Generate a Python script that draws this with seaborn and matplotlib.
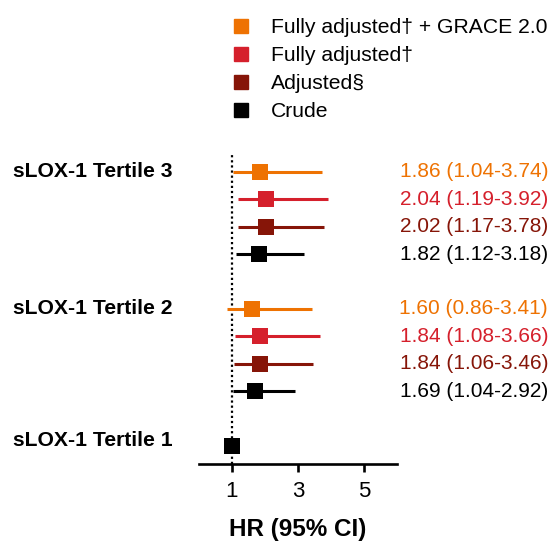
import matplotlib
matplotlib.use("Agg")
import matplotlib.pyplot as plt
from matplotlib.lines import Line2D
import pandas as pd
import seaborn as sns

# ---- data ----
groups = ["sLOX-1 Tertile 3", "sLOX-1 Tertile 2", "sLOX-1 Tertile 1"]
models = ["Fully adjusted\u2020 + GRACE 2.0", "Fully adjusted\u2020", "Adjusted\u00a7", "Crude"]
colors = ["#EE7202", "#D5202C", "#861508", "#000000"]

hr_t3 = [1.86, 2.04, 2.02, 1.82]
lo_t3 = [1.04, 1.19, 1.17, 1.12]
hi_t3 = [3.74, 3.92, 3.78, 3.18]

hr_t2 = [1.60, 1.84, 1.84, 1.69]
lo_t2 = [0.86, 1.08, 1.06, 1.04]
hi_t2 = [3.41, 3.66, 3.46, 2.92]

hr_ref = 1.0  # Tertile 1 is the reference category

x_ticks = [1, 3, 5]

# ---- long-form table: one row per estimate ----
rows = []
for g_idx, (hr, lo, hi) in enumerate([(hr_t3, lo_t3, hi_t3), (hr_t2, lo_t2, hi_t2)]):
    for m_idx, m in enumerate(models):
        rows.append(dict(group=groups[g_idx], model=m, hr=hr[m_idx], lo=lo[m_idx],
                         hi=hi[m_idx], row=g_idx * 5 + m_idx, show_text=True))
rows.append(dict(group=groups[2], model=models[3], hr=hr_ref, lo=hr_ref, hi=hr_ref,
                 row=10, show_text=False))
df = pd.DataFrame(rows)

palette = dict(zip(models, colors))

sns.set_theme(style="white")
plt.rcParams["font.family"] = ["Liberation Sans", "DejaVu Sans"]
plt.rcParams["text.color"] = "black"
plt.rcParams["xtick.color"] = "black"
plt.rcParams["axes.labelcolor"] = "black"

fig = plt.figure(figsize=(5.52, 5.41), dpi=100)
ax = fig.add_axes([0.3605, 0.1423, 0.3587, 0.575])

# reference line at HR = 1
ax.axvline(1, color="black", lw=1.6, ls=(0, (1, 1.3)), zorder=1)

# confidence intervals
ax.hlines(df["row"], df["lo"], df["hi"], colors=[palette[m] for m in df["model"]],
          lw=2.2, zorder=2)

# point estimates
sns.scatterplot(data=df, x="hr", y="row", hue="model", palette=palette, marker="s",
                s=135, linewidth=0, legend=False, ax=ax, zorder=3)

# value labels on the right
for _, r in df[df["show_text"]].iterrows():
    ax.text(1.763, r["row"], f"{r['hr']:.2f} ({r['lo']:.2f}-{r['hi']:.2f})",
            transform=ax.get_yaxis_transform(), ha="right", va="center",
            fontsize=15, color=palette[r["model"]])

# group labels on the left
for g, y in zip(groups, [0, 5, 9.8]):
    ax.text(-0.94, y, g, transform=ax.get_yaxis_transform(), ha="left", va="center",
            fontsize=15.2, fontweight="bold", color="black")

ax.set_xlim(0, 6)
ax.set_ylim(10.66, -0.69)
ax.set_xticks(x_ticks)
ax.set_xticklabels([str(t) for t in x_ticks], fontsize=16)
ax.set_yticks([])
ax.set_ylabel("")
ax.set_xlabel("HR (95% CI)", fontsize=17.5, fontweight="bold", labelpad=12)
for s in ["top", "right", "left"]:
    ax.spines[s].set_visible(False)
ax.spines["bottom"].set_linewidth(1.9)
ax.spines["bottom"].set_color("black")
ax.tick_params(axis="x", direction="out", length=6, width=1.9, color="black",
               labelcolor="black", pad=6, bottom=True)

# legend
handles = [Line2D([], [], marker="s", ls="", color=c, markersize=10.5) for c in colors]
leg = fig.legend(handles, models, loc="upper left", bbox_to_anchor=(0.4167, 0.966),
                 frameon=False, fontsize=15.2, handlelength=1.0, handletextpad=0.95,
                 labelspacing=0.42, borderpad=0, borderaxespad=0)
for t in leg.get_texts():
    t.set_color("black")

fig.savefig("out.png", dpi=100, facecolor="white")
